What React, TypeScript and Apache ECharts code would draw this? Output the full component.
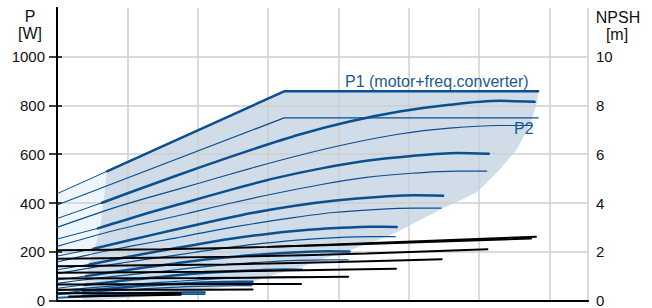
import React, { useEffect, useRef } from "react";
import * as echarts from "echarts";

const Q_MAX = 7.55;
const P_TICKS = [0, 200, 400, 600, 800, 1000];
const NPSH_TICKS = [0, 2, 4, 6, 8, 10];

// power-limit envelopes
const p1LimitExt = [[0, 438], [0.71, 530]];
const p1Limit = [[0.71, 530], [3.23, 858], [6.84, 858]];
const p2Limit = [[0, 392], [3.23, 749], [6.84, 749]];

// P1 curves (first point = Q 0, second = start of the operating range)
const p1Speed1 = [[0, 336], [0.64, 401], [1.32, 473], [2.03, 546], [2.74, 616], [3.45, 681], [4.16, 734], [4.87, 775], [5.58, 803], [6.29, 819], [6.79, 815]];
const p1Speed2 = [[0, 252], [0.58, 296], [1.19, 350], [1.84, 403], [2.48, 455], [3.12, 503], [3.76, 542], [4.4, 573], [5.04, 593], [5.69, 605], [6.14, 602]];
const p1Speed3 = [[0, 182], [0.52, 212], [1.07, 250], [1.64, 288], [2.21, 325], [2.79, 360], [3.36, 388], [3.93, 409], [4.51, 424], [5.08, 432], [5.49, 430]];
const p1Speed4 = [[0, 126], [0.46, 148], [0.94, 175], [1.44, 202], [1.95, 228], [2.45, 252], [2.96, 272], [3.46, 287], [3.97, 297], [4.47, 303], [4.83, 302]];
const p1Speed5 = [[0, 84], [0.41, 100], [0.81, 117], [1.24, 135], [1.68, 152], [2.11, 168], [2.55, 181], [2.99, 191], [3.42, 198], [3.86, 202], [4.16, 201]];
const p1Speed6 = [[0, 50], [0.38, 64], [0.68, 73], [1.04, 85], [1.41, 95], [1.77, 106], [2.13, 114], [2.5, 120], [2.86, 124], [3.23, 127], [3.48, 126]];
const p1Speed7 = [[0, 28], [0.37, 40], [0.54, 44], [0.83, 51], [1.12, 58], [1.41, 64], [1.71, 69], [2.0, 73], [2.29, 75], [2.58, 77], [2.78, 77]];
const p1Speed8 = [[0, 13], [0.36, 18], [0.63, 22], [0.85, 25], [1.07, 27], [1.29, 29], [1.51, 31], [1.73, 32], [1.95, 33], [2.1, 33]];

// P2 curves
const p2Speed1 = [[0, 300], [0.82, 381], [1.32, 424], [2.03, 482], [2.74, 541], [3.45, 596], [4.16, 644], [4.87, 683], [5.58, 707], [6.29, 718], [6.76, 718]];
const p2Speed2 = [[0, 222], [0.74, 282], [1.19, 313], [1.84, 356], [2.48, 400], [3.12, 440], [3.76, 476], [4.4, 505], [5.04, 522], [5.69, 531], [6.11, 531]];
const p2Speed3 = [[0, 158], [0.66, 201], [1.07, 224], [1.64, 254], [2.21, 286], [2.79, 315], [3.36, 340], [3.93, 361], [4.51, 373], [5.08, 379], [5.46, 379]];
const p2Speed4 = [[0, 110], [0.58, 139], [0.94, 155], [1.44, 176], [1.95, 197], [2.45, 218], [2.96, 235], [3.46, 249], [3.97, 258], [4.47, 262], [4.81, 262]];
const p2Speed5 = [[0, 70], [0.5, 89], [0.81, 99], [1.24, 112], [1.68, 126], [2.11, 139], [2.55, 150], [2.99, 159], [3.42, 165], [3.86, 167], [4.14, 167]];
const p2Speed6 = [[0, 40], [0.42, 51], [0.68, 57], [1.04, 65], [1.41, 73], [1.77, 80], [2.13, 87], [2.5, 92], [2.86, 95], [3.23, 97], [3.47, 97]];
const p2Speed7 = [[0, 24], [0.34, 32], [0.54, 36], [0.83, 41], [1.12, 46], [1.41, 51], [1.71, 55], [2.0, 58], [2.29, 60], [2.58, 61], [2.77, 61]];
const p2Speed8 = [[0, 10], [0.25, 13], [0.41, 15], [0.63, 17], [0.85, 19], [1.07, 21], [1.29, 23], [1.51, 24], [1.73, 25], [1.95, 25], [2.1, 25]];

// NPSH curves (right axis, m)
const npsh1 = [[0, 2.06], [1.5, 2.1], [3.0, 2.2], [4.5, 2.36], [6.81, 2.62]];
const npsh1b = [[3.0, 2.2], [4.5, 2.33], [6.74, 2.54]];
const npsh2 = [[0, 1.71], [2.6, 1.8], [4.4, 1.93], [6.12, 2.1]];
const npsh3 = [[0, 1.41], [2.4, 1.48], [4.0, 1.58], [5.47, 1.69]];
const npsh4 = [[0, 1.14], [2.1, 1.18], [3.5, 1.24], [4.82, 1.3]];
const npsh5 = [[0, 0.9], [2.0, 0.92], [4.14, 0.97]];
const npsh6 = [[0, 0.66], [1.7, 0.67], [3.47, 0.68]];
const npsh7 = [[0, 0.44], [1.4, 0.44], [2.78, 0.45]];
const npsh8 = [[0, 0.3], [1.76, 0.31]];
const npsh9 = [[0.17, 0.16], [1.76, 0.24]];

// operating area outlines
const operatingArea = [
  [0.71, 530], [3.23, 858], [6.84, 858], [6.83, 815], [6.72, 718], [6.53, 616], [6.25, 523],
  [5.96, 442], [5.72, 409], [5.48, 377], [5.15, 328], [4.83, 280], [4.49, 239], [4.16, 206],
  [3.78, 170], [3.48, 138], [3.07, 105], [2.79, 77], [2.32, 53], [1.89, 32], [1.42, 20],
  [0.89, 8], [0.54, 0], [0.36, 0], [0.45, 150], [0.54, 219], [0.61, 288], [0.65, 381],
];
const minFlowArea = [
  [0, 438], [0.71, 530], [0.65, 381], [0.61, 288], [0.54, 219], [0.45, 150], [0.36, 0], [0, 0],
];

const p1Curves = [p1Speed1, p1Speed2, p1Speed3, p1Speed4, p1Speed5, p1Speed6, p1Speed7, p1Speed8];
const p2Curves = [p2Speed1, p2Speed2, p2Speed3, p2Speed4, p2Speed5, p2Speed6, p2Speed7, p2Speed8];
const npshCurves = [npsh1, npsh1b, npsh2, npsh3, npsh4, npsh5, npsh6, npsh7, npsh8, npsh9];

const BLUE = "#0b4f8f";
const LABEL_BLUE = "#1b5a98";
const FONT = "'Liberation Sans', Arial, sans-serif";
const TEXT = "#111111";

function polygonSeries(points: number[][], fill: string, z: number) {
  return {
    type: "custom",
    coordinateSystem: "cartesian2d",
    xAxisIndex: 0,
    yAxisIndex: 0,
    silent: true,
    z,
    data: [[0, 0]],
    renderItem: (_params: any, api: any) => ({
      type: "polygon",
      shape: { points: points.map((p) => api.coord(p)) },
      style: { fill, stroke: "none" },
    }),
  };
}

function lineSeries(data: number[][], width: number, color: string, yAxisIndex = 0, smooth: boolean | number = 0.3, z = 3) {
  return {
    type: "line",
    data,
    xAxisIndex: 0,
    yAxisIndex,
    symbol: "none",
    showSymbol: false,
    silent: true,
    smooth,
    lineStyle: { width, color, cap: "round" },
    z,
  };
}

export default function App() {
  const ref = useRef<HTMLDivElement>(null);
  useEffect(() => {
    document.body.style.margin = "0";
    const chart = echarts.init(ref.current!, undefined, { renderer: "svg" });
    const series: any[] = [
      polygonSeries(minFlowArea, "#eef6fd", -2),
      polygonSeries(operatingArea, "#d0dce8", -1),
    ];
    p1Curves.forEach((c) => {
      series.push(lineSeries(c.slice(0, 2), 1, BLUE, 0, false));
      series.push(lineSeries(c.slice(1), 2.5, BLUE));
    });
    p2Curves.forEach((c) => series.push(lineSeries(c, 1.2, BLUE)));
    series.push(lineSeries(p1LimitExt, 1, BLUE, 0, false));
    series.push(lineSeries(p1Limit, 2.5, BLUE, 0, false));
    series.push(lineSeries(p2Limit, 1.2, BLUE, 0, false));
    npshCurves.forEach((c) => series.push(lineSeries(c, 2, "#000000", 1, 0.2, 4)));

    chart.setOption({
      animation: false,
      grid: { left: 57, right: 64, top: 8, bottom: 4, containLabel: false },
      xAxis: [
        {
          type: "value",
          min: 0,
          max: Q_MAX,
          interval: 1,
          position: "bottom",
          axisLine: { show: true, lineStyle: { color: "#000", width: 2 } },
          axisTick: { show: false },
          axisLabel: { show: false },
          splitLine: { show: true, lineStyle: { color: "#cfcfcf", width: 1.5 } },
        },
        {
          type: "value",
          min: 0,
          max: Q_MAX,
          position: "top",
          axisLine: { show: true, lineStyle: { color: "#000", width: 1.5 } },
          axisTick: { show: false },
          axisLabel: { show: false },
          splitLine: { show: false },
        },
      ],
      yAxis: [
        {
          type: "value",
          min: 0,
          max: 1200,
          interval: 200,
          position: "left",
          axisLine: { show: true, lineStyle: { color: "#000", width: 2 } },
          axisTick: { show: true, length: 8, customValues: P_TICKS, lineStyle: { color: "#000", width: 1.5 } },
          axisLabel: { customValues: P_TICKS, formatter: (v: number) => String(v), fontSize: 15, color: TEXT, margin: 12, fontFamily: FONT },
          splitLine: { show: true, lineStyle: { color: "#cfcfcf", width: 1.5 } },
        },
        {
          type: "value",
          min: 0,
          max: 12,
          interval: 2,
          position: "right",
          axisLine: { show: true, lineStyle: { color: "#000", width: 2 } },
          axisTick: { show: true, length: 5, customValues: NPSH_TICKS, lineStyle: { color: "#000", width: 1.5 } },
          axisLabel: { customValues: NPSH_TICKS, formatter: (v: number) => String(v), fontSize: 15, color: TEXT, margin: 8, fontFamily: FONT },
          splitLine: { show: false },
        },
      ],
      graphic: [
        { type: "text", x: 30, y: 16, style: { text: "P", fontSize: 16, fontFamily: FONT, fill: TEXT, textAlign: "center", textVerticalAlign: "middle" } },
        { type: "text", x: 30, y: 33, style: { text: "[W]", fontSize: 16, fontFamily: FONT, fill: TEXT, textAlign: "center", textVerticalAlign: "middle" } },
        { type: "text", x: 618, y: 17.5, style: { text: "NPSH", fontSize: 16, fontFamily: FONT, fill: TEXT, textAlign: "center", textVerticalAlign: "middle" } },
        { type: "text", x: 617, y: 34, style: { text: "[m]", fontSize: 16, fontFamily: FONT, fill: TEXT, textAlign: "center", textVerticalAlign: "middle" } },
        { type: "text", x: 345, y: 81, z: 10, style: { text: "P1 (motor+freq.converter)", fontSize: 16, fontFamily: FONT, fill: LABEL_BLUE, textAlign: "left", textVerticalAlign: "middle" } },
        { type: "text", x: 514, y: 128, z: 10, style: { text: "P2", fontSize: 16, fontFamily: FONT, fill: LABEL_BLUE, textAlign: "left", textVerticalAlign: "middle" } },
      ],
      series,
    });
    return () => chart.dispose();
  }, []);
  return <div ref={ref} style={{ width: 652, height: 308 }} />;
}
